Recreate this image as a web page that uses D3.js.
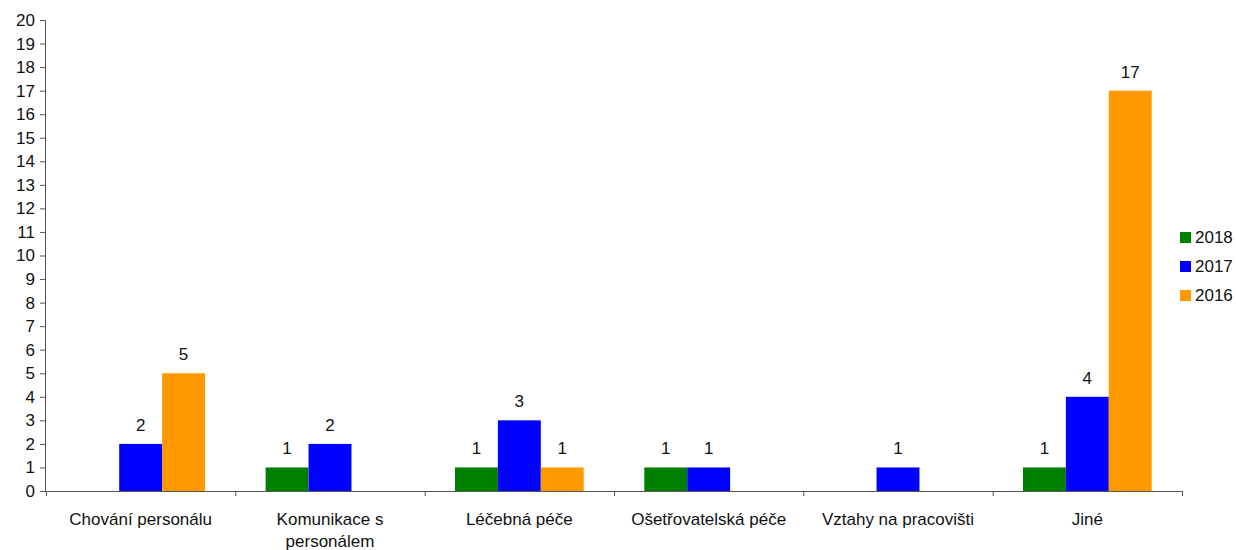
<!DOCTYPE html>
<html><head><meta charset="utf-8">
<script src="https://cdn.jsdelivr.net/npm/d3@7"></script>
<style>body{margin:0;background:#fff}svg{display:block}text{font-family:"Liberation Sans",Arial,sans-serif;fill:#111}</style>
</head><body><svg id="c" width="1236" height="550"></svg>
<script>
const categories = [["Chování personálu"],["Komunikace s","personálem"],["Léčebná péče"],["Ošetřovatelská péče"],["Vztahy na pracovišti"],["Jiné"]];
const seriesNames = ["2018","2017","2016"];
const values2018 = [null,1,1,1,null,1];
const values2017 = [2,2,3,1,1,4];
const values2016 = [5,null,1,null,null,17];
const yTicks = d3.range(0,21,1);
const colors = ["#008000","#0000ff","#ff9900"];
const series = [values2018, values2017, values2016];

(function(){
const svg = d3.select("#c");
const FS = 17;
const pLeft=46, pRight=1182, pTop=20, pBottom=491;
const x0 = d3.scaleBand().domain(d3.range(categories.length)).range([pLeft,pRight]).padding(0);
const gap = x0.bandwidth()*0.16;
const x1 = d3.scaleBand().domain(d3.range(series.length)).range([gap, x0.bandwidth()-gap]).padding(0);
const y = d3.scaleLinear().domain([0,20]).range([pBottom,pTop]);

// y axis
const ya = svg.append("g").attr("transform",`translate(${pLeft-1},0)`)
  .call(d3.axisLeft(y).tickValues(yTicks).tickSize(5).tickPadding(5).tickFormat(d3.format("d")));
ya.attr("font-size",FS).attr("font-family",null);
ya.select(".domain").attr("stroke","#555");
ya.selectAll(".tick line").attr("stroke","#555");
ya.selectAll("text").attr("font-size",FS).attr("fill","#111");

// bars
categories.forEach((c,i)=>{
  series.forEach((s,j)=>{
    const v = s[i];
    if(v==null) return;
    const bx = x0(i)+x1(j);
    svg.append("rect").attr("x",bx).attr("y",y(v)).attr("width",x1.bandwidth()).attr("height",y(0)-y(v)).attr("fill",colors[j]);
    svg.append("text").attr("x",bx+x1.bandwidth()/2).attr("y",y(v)-13).attr("text-anchor","middle").attr("font-size",FS).text(v);
  });
});

// x axis
const xa = svg.append("g");
xa.append("line").attr("x1",pLeft-1).attr("x2",pRight).attr("y1",pBottom+0.5).attr("y2",pBottom+0.5).attr("stroke","#555");
d3.range(categories.length+1).forEach(i=>{
  const tx = (i<categories.length? x0(i) : pRight)+0.5;
  xa.append("line").attr("x1",tx).attr("x2",tx).attr("y1",pBottom).attr("y2",pBottom+5).attr("stroke","#555");
});
categories.forEach((c,i)=>{
  const t = svg.append("text").attr("text-anchor","middle").attr("font-size",FS)
    .attr("x",x0(i)+x0.bandwidth()/2).attr("y",525);
  c.forEach((ln,k)=>t.append("tspan").attr("x",x0(i)+x0.bandwidth()/2).attr("dy",k?22:0).text(ln));
});

// legend
seriesNames.forEach((n,j)=>{
  const ly = 232 + j*29;
  svg.append("rect").attr("x",1180).attr("y",ly).attr("width",11).attr("height",11).attr("fill",colors[j]);
  svg.append("text").attr("x",1195).attr("y",ly+11).attr("font-size",FS).text(n);
});
})();
</script></body></html>
